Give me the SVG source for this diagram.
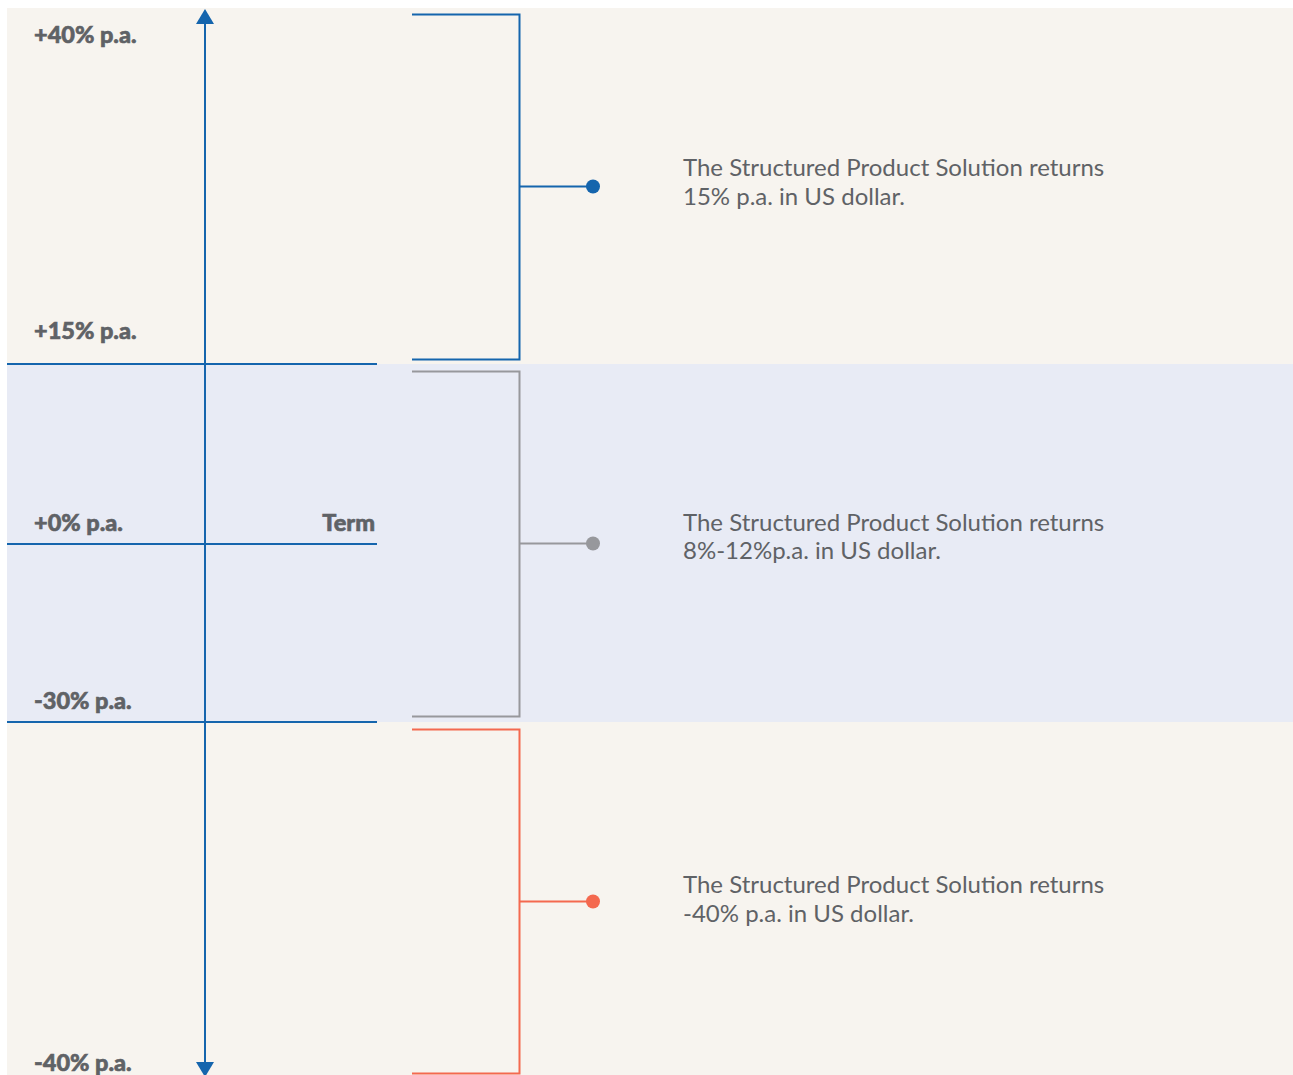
<svg xmlns="http://www.w3.org/2000/svg" width="1293" height="1075" viewBox="0 0 1293 1075">
<style>
.lbl{font-family:Lato,"Liberation Sans",sans-serif;font-weight:900;font-size:23.5px;fill:#5f6266;stroke:#5f6266;stroke-width:0.6}
.desc{font-family:Lato,"Liberation Sans",sans-serif;font-size:24px;fill:#5f6266}
.ax{stroke:#1565ad;stroke-width:2;fill:none}
</style>
<rect x="0" y="0" width="1293" height="1075" fill="#ffffff"/>
<rect x="7" y="8" width="1286" height="356" fill="#f7f4ef"/>
<rect x="7" y="364" width="1286" height="358" fill="#e8ebf5"/>
<rect x="7" y="722" width="1286" height="353" fill="#f7f4ef"/>
<g id="axis">
<line class="ax" x1="7" y1="364" x2="377" y2="364"/>
<line class="ax" x1="7" y1="544" x2="377" y2="544"/>
<line class="ax" x1="7" y1="722" x2="377" y2="722"/>
<line class="ax" x1="205" y1="22" x2="205" y2="1064"/>
<polygon points="205,9 196,24 214,24" fill="#1565ad"/>
<polygon points="205,1077 196,1062 214,1062" fill="#1565ad"/>
</g>
<g id="labels">
<text class="lbl" x="34" y="43">+40% p.a.</text>
<text class="lbl" x="34" y="339">+15% p.a.</text>
<text class="lbl" x="34" y="531">+0% p.a.</text>
<text class="lbl" x="375" y="531" text-anchor="end">Term</text>
<text class="lbl" x="34" y="709">-30% p.a.</text>
<text class="lbl" x="34" y="1071">-40% p.a.</text>
</g>
<g id="connectors">
<polyline points="412,14.5 519.5,14.5 519.5,359.5 412,359.5" fill="none" stroke="#1565ad" stroke-width="2"/>
<line x1="519.5" y1="186.5" x2="593" y2="186.5" stroke="#1565ad" stroke-width="2"/>
<polyline points="412,371.5 519.5,371.5 519.5,716.5 412,716.5" fill="none" stroke="#97989c" stroke-width="2"/>
<line x1="519.5" y1="543.5" x2="593" y2="543.5" stroke="#97989c" stroke-width="2"/>
<polyline points="412,729.5 519.5,729.5 519.5,1073.5 412,1073.5" fill="none" stroke="#f4694f" stroke-width="2"/>
<line x1="519.5" y1="901.5" x2="593" y2="901.5" stroke="#f4694f" stroke-width="2"/>
</g>
<g id="node-top">
<circle cx="593" cy="186.5" r="7" fill="#1565ad"/>
<text class="desc" x="683" y="176">The Structured Product Solution returns</text>
<text class="desc" x="683" y="205">15% p.a. in US dollar.</text>
</g>
<g id="node-middle">
<circle cx="593" cy="543.5" r="7" fill="#97989c"/>
<text class="desc" x="683" y="531">The Structured Product Solution returns</text>
<text class="desc" x="683" y="559">8%-12%p.a. in US dollar.</text>
</g>
<g id="node-bottom">
<circle cx="593" cy="901.5" r="7" fill="#f4694f"/>
<text class="desc" x="683" y="893">The Structured Product Solution returns</text>
<text class="desc" x="683" y="922">-40% p.a. in US dollar.</text>
</g>
</svg>
